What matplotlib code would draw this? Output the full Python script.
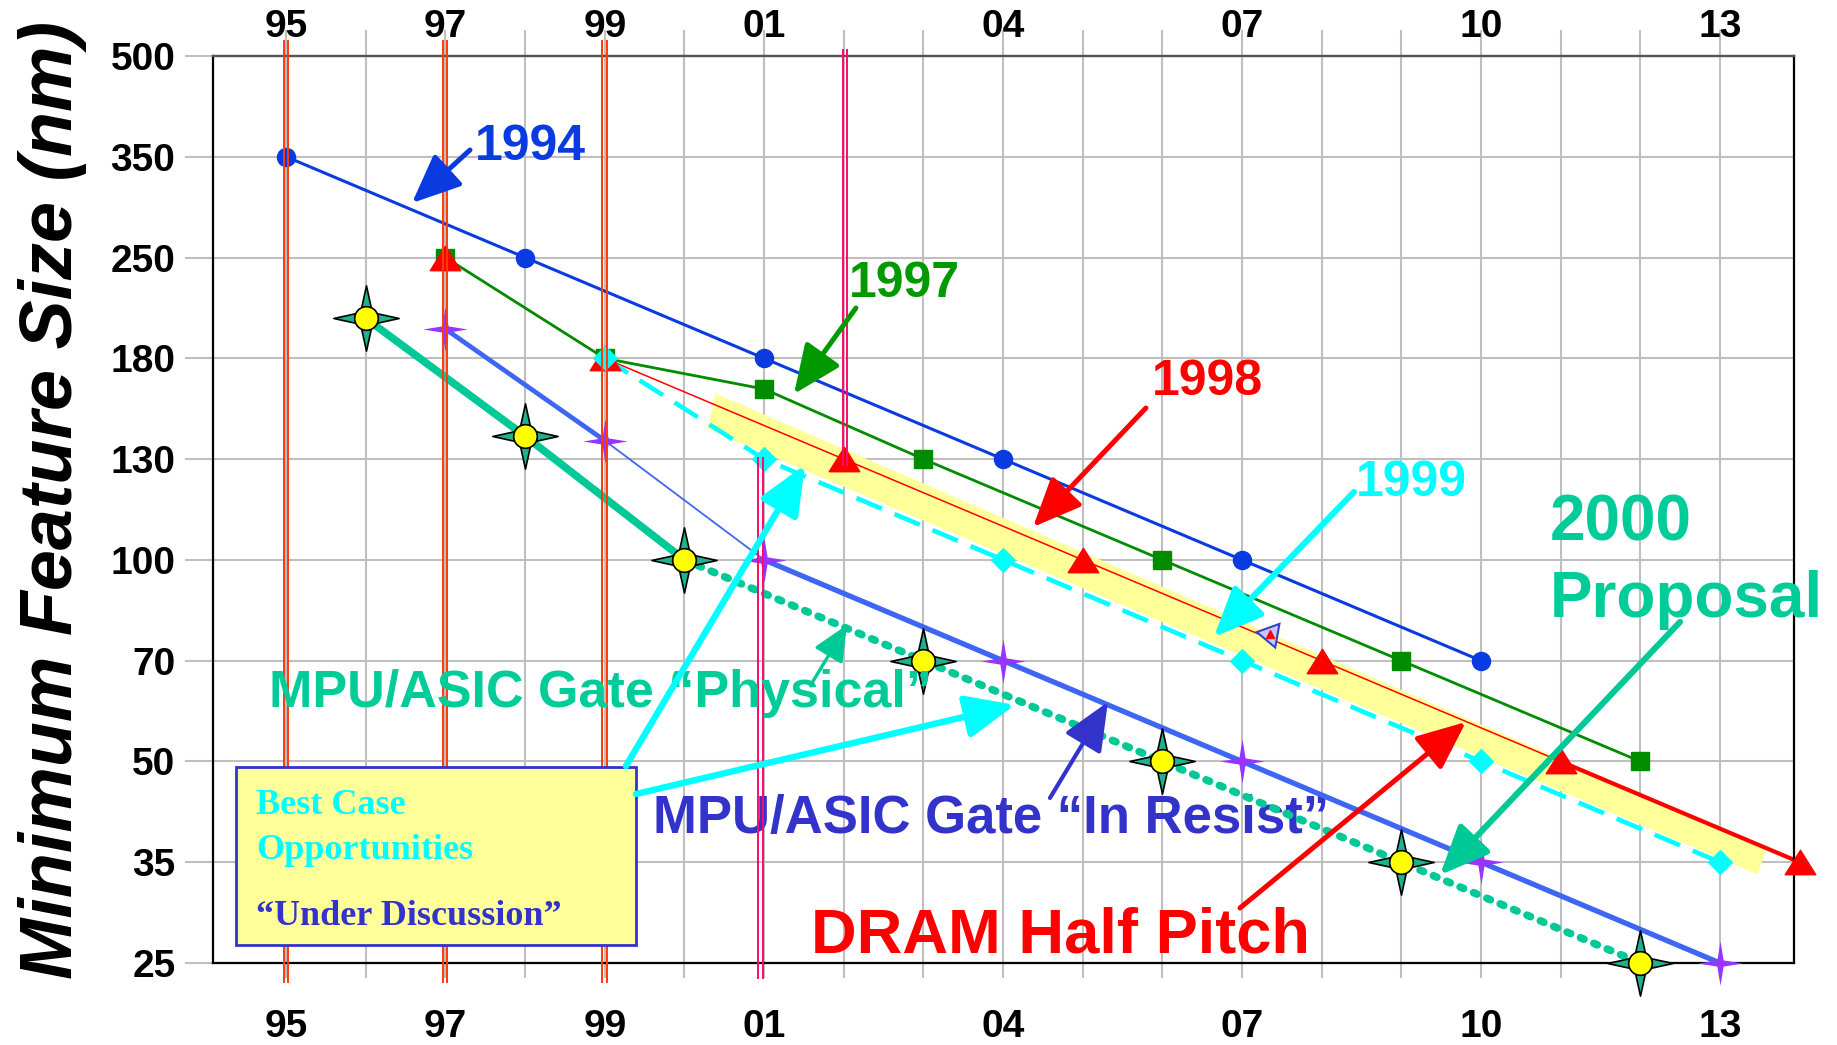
import numpy as np
import matplotlib.pyplot as plt
from matplotlib.path import Path

plt.rcParams['font.family'] = ['Liberation Sans', 'DejaVu Sans']

# technology nodes on the y axis (evenly spaced in the chart)
node_nm = [500, 350, 250, 180, 130, 100, 70, 50, 35, 25]
tick_years = list(range(1995, 2014))
labeled_years = [1995, 1997, 1999, 2001, 2004, 2007, 2010, 2013]
year_labels = ['95', '97', '99', '01', '04', '07', '10', '13']

# roadmap editions
ntrs94_years = [1995, 1998, 2001, 2004, 2007, 2010]
ntrs94_nm = [350, 250, 180, 130, 100, 70]

ntrs97_years = [1997, 1999, 2001, 2003, 2006, 2009, 2012]
ntrs97_nm = [250, 180, 163, 130, 100, 70, 50]

itrs98_years = [1997, 1999, 2002, 2005, 2008, 2011, 2014]
itrs98_nm = [250, 180, 130, 100, 70, 50, 35]

itrs99_years = [1999, 2001, 2004, 2007, 2010, 2013]
itrs99_nm = [180, 130, 100, 70, 50, 35]

# 2000 proposal, MPU gate lengths
resist_years = [1997, 1999, 2001, 2004, 2007, 2010, 2013]
resist_nm = [198, 138, 100, 70, 50, 35, 25]

physical_years = [1996, 1998, 2000, 2003, 2006, 2009, 2012]
physical_nm = [205, 140, 100, 70, 50, 35, 25]

# "best case" band (corners)
band_years = [2000.39, 2013.59, 2013.47, 2000.29]
band_nm = [160.6, 36.8, 33.6, 143.3]

# stray glyph in the original slide
glitch_years = [2007.35]
glitch_nm = [77]

# vertical markers
dram_years = [1995, 1997, 1999]
pink_years = [2001, 2002]

BLUE94 = '#0A3BE0'
GREEN97 = '#008C00'
RED98 = '#FF0000'
CYAN99 = '#00FFFF'
TEAL = '#00C896'
RESIST = '#3F66F2'
RESIST_TXT = '#3333CC'
PURPLE = '#9933FF'

lognodes = np.log(np.array(node_nm[::-1], dtype=float))
idx = np.arange(len(node_nm), dtype=float)


def fwd(v):
    v = np.clip(np.asarray(v, dtype=float), 1e-6, None)
    return np.interp(np.log(v), lognodes, idx)


def inv(i):
    return np.exp(np.interp(i, idx, lognodes))


def star4(r):
    verts = [(0, 1), (r, r), (1, 0), (r, -r), (0, -1), (-r, -r), (-1, 0), (-r, r), (0, 1)]
    return Path(verts, closed=True)


tri = Path([(-1, -0.8), (1, -0.8), (0, 0.8), (-1, -0.8)], closed=True)
diamond = Path([(0, 1), (1, 0), (0, -1), (-1, 0), (0, 1)], closed=True)

fig = plt.figure(figsize=(18.37, 10.45), dpi=100)
ax = fig.add_axes([0.1159, 0.0785, 0.8607, 0.8679])
ax.set_yscale('function', functions=(fwd, inv))
ax.set_ylim(25, 500)
ax.set_xlim(1994.08, 2013.93)

ax.set_yticks(node_nm)
ax.set_yticklabels([str(v) for v in node_nm], fontweight='bold')
ax.set_xticks(tick_years)
xl = [year_labels[labeled_years.index(y)] if y in labeled_years else '' for y in tick_years]
ax.set_xticklabels(xl, fontweight='bold')
ax.minorticks_off()
ax.grid(True, color='#BFBFBF', lw=1.5)
ax.set_axisbelow(True)
ax.tick_params(axis='x', direction='out', length=11, width=1.5, color='#BFBFBF', pad=22, labelsize=28)
ax.tick_params(axis='y', direction='out', length=20, width=1.5, color='#BFBFBF', pad=7, labelsize=28)
for s in ax.spines.values():
    s.set_linewidth(1.6)
    s.set_color('black')
ax.spines['top'].set_color('#555555')

sec = ax.secondary_xaxis('top')
sec.set_xticks(tick_years)
sec.set_xticklabels(xl, fontweight='bold')
sec.tick_params(direction='out', length=19, width=1.5, color='#BFBFBF', pad=-11, labelsize=28)
sec.spines['top'].set_color('#555555')
sec.spines['top'].set_linewidth(1.6)

# band
ax.fill(band_years, band_nm, color='#FFFF99', lw=0, zorder=1.5)

# 1998 red
ax.plot(itrs98_years, itrs98_nm, color=RED98, lw=1.1, zorder=2.5)
ax.plot(itrs98_years[-2:], itrs98_nm[-2:], color=RED98, lw=3.0, zorder=2.5)
# 1997 green
ax.plot(ntrs97_years, ntrs97_nm, color=GREEN97, lw=2.0, zorder=2.6)
# 1994 blue
ax.plot(ntrs94_years, ntrs94_nm, color=BLUE94, lw=2.2, zorder=2.6)
# 1999 cyan dashed
ax.plot(itrs99_years, itrs99_nm, color=CYAN99, lw=3.3, dashes=(6, 3), zorder=2.7)
# in resist
ax.plot(resist_years[:2], resist_nm[:2], color=RESIST, lw=3.4, zorder=2.8)
ax.plot(resist_years[1:3], resist_nm[1:3], color=RESIST, lw=1.3, zorder=2.8)
ax.plot(resist_years[2:], resist_nm[2:], color=RESIST, lw=3.8, zorder=2.8)
# physical
ax.plot(physical_years[:3], physical_nm[:3], color=TEAL, lw=5.5, zorder=2.9)
ax.plot(physical_years[2:], physical_nm[2:], color=TEAL, lw=5.5, dashes=(0.5, 1.4),
        dash_capstyle='round', zorder=2.9)

# markers
ax.plot(ntrs94_years, ntrs94_nm, ls='none', marker='o', ms=13, color=BLUE94, zorder=3.1)
ax.plot(ntrs97_years, ntrs97_nm, ls='none', marker='s', ms=13, color=GREEN97, zorder=3.1)
ax.plot(itrs98_years, itrs98_nm, ls='none', marker=tri, ms=22, color=RED98, zorder=3.2, clip_on=False)
ax.plot(itrs99_years, itrs99_nm, ls='none', marker=diamond, ms=17, color=CYAN99, zorder=3.3)
ax.plot(resist_years, resist_nm, ls='none', marker=star4(0.14), ms=32, color=PURPLE, mew=0,
        zorder=3.4, clip_on=False)
ax.plot(physical_years, physical_nm, ls='none', marker=star4(0.18), ms=47, mfc='#20B28E',
        mec='black', mew=1.2, zorder=3.5, clip_on=False)
ax.plot(physical_years, physical_nm, ls='none', marker='o', ms=17, mfc='#FFFF00',
        mec='black', mew=1.2, zorder=3.6, clip_on=False)
ax.plot(glitch_years, glitch_nm, ls='none', marker=(3, 0, 200), ms=20, mfc='#C8C8FF',
        mec='#3344CC', mew=1.5, zorder=3.2)
ax.plot(glitch_years, glitch_nm, ls='none', marker='^', ms=6, color=RED98, zorder=3.3)

# vertical double lines
for y in dram_years:
    for dx in (-0.03, 0.025):
        ax.axvline(y + dx, ymin=-0.021, ymax=1.017, color='#FF3A0A', lw=1.4, clip_on=False, zorder=4.5)
for dx in (-0.075, -0.02):
    ax.axvline(pink_years[0] + dx, ymin=-0.0165, ymax=0.557, color='#FF0A6C', lw=1.4,
               clip_on=False, zorder=4.5)
for dx in (-0.015, 0.035):
    ax.axvline(pink_years[1] + dx, ymin=0.549, ymax=1.0066, color='#FF0A6C', lw=1.4,
               clip_on=False, zorder=4.5)

# best case box
ax.add_patch(plt.Rectangle((0.0146, 0.0198), 0.253, 0.1963, transform=ax.transAxes,
                           facecolor='#FFFF99', edgecolor=RESIST_TXT, lw=2, zorder=5,
                           clip_on=False))
ax.text(0.0272, 0.1643, 'Best Case', transform=ax.transAxes, color=CYAN99, fontsize=26,
        fontweight='bold', family='Liberation Serif', zorder=5.5)
ax.text(0.0272, 0.1147, 'Opportunities', transform=ax.transAxes, color=CYAN99, fontsize=26,
        fontweight='bold', family='Liberation Serif', zorder=5.5)
ax.text(0.0272, 0.0419, '\u201cUnder Discussion\u201d', transform=ax.transAxes, color=RESIST_TXT,
        fontsize=26, fontweight='bold', family='Liberation Serif', zorder=5.5)

# labels
def label(x, y, s, color, size, ha='center', z=6):
    ax.text(x, y, s, transform=ax.transAxes, color=color, fontsize=size, fontweight='bold',
            ha=ha, va='baseline', zorder=z, clip_on=False)


label(0.2005, 0.8853, '1994', BLUE94, 36)
label(0.4371, 0.7343, '1997', '#009900', 36)
label(0.6293, 0.6262, '1998', RED98, 36)
label(0.7578, 0.5149, '1999', CYAN99, 36)
label(0.8452, 0.4653, '2000', '#00CC99', 46, ha='left')
label(0.8452, 0.3820, 'Proposal', '#00CC99', 46, ha='left')
label(0.0354, 0.2822, 'MPU/ASIC Gate \u201cPhysical\u201d', '#00CC99', 37.5, ha='left')
label(0.2783, 0.1433, 'MPU/ASIC Gate \u201cIn Resist\u201d', RESIST_TXT, 38, ha='left', z=2.7)
label(0.3780, 0.0110, 'DRAM Half Pitch', RED98, 45.5, ha='left')


def arrow(tail, head, color, lw, hl=1.5, hw=0.65, ms=20):
    ax.annotate('', xy=head, xytext=tail, xycoords='axes fraction', textcoords='axes fraction',
                arrowprops=dict(arrowstyle=f'-|>,head_length={hl},head_width={hw}', color=color,
                                lw=lw, shrinkA=0, shrinkB=0, mutation_scale=ms),
                annotation_clip=False, zorder=7)


arrow((0.1626, 0.8964), (0.1259, 0.8379), BLUE94, 3.6)
arrow((0.4067, 0.7222), (0.3675, 0.6273), '#009900', 3.6)
arrow((0.5901, 0.6119), (0.5187, 0.4807), RED98, 3.6)
arrow((0.7217, 0.5193), (0.6331, 0.3594), CYAN99, 4.4)
arrow((0.9279, 0.3760), (0.7761, 0.0970), TEAL, 4.4)
arrow((0.3789, 0.3087), (0.4010, 0.3727), TEAL, 2.4, hl=1.1, hw=0.5)
arrow((0.5294, 0.1819), (0.5661, 0.2878), RESIST_TXT, 3.0)
arrow((0.6496, 0.0606), (0.7925, 0.2657), RED98, 3.6)
arrow((0.2612, 0.2172), (0.3744, 0.5491), CYAN99, 4.6)
arrow((0.2676, 0.1863), (0.5073, 0.2845), CYAN99, 4.6)

fig.text(0.0285, 0.5215, 'Minimum Feature Size (nm)', rotation=90, fontsize=53,
         fontweight='bold', fontstyle='italic', ha='center', va='center')

fig.savefig('out.png', dpi=100)
